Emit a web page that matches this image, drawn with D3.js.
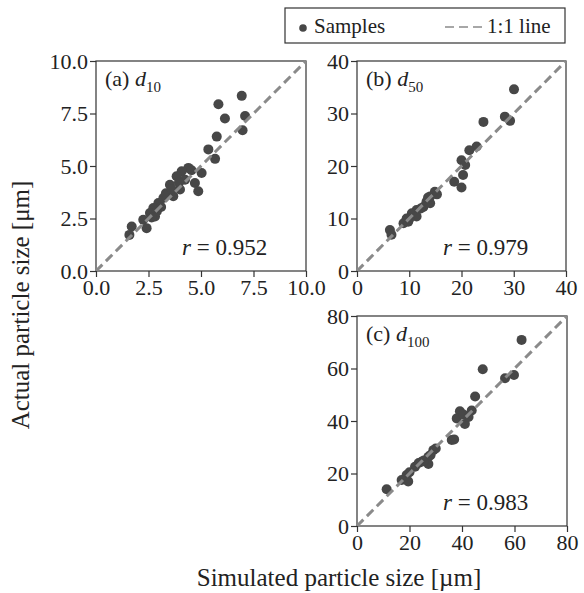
<!DOCTYPE html>
<html>
<head>
<meta charset="utf-8">
<title>Simulated vs actual particle size</title>
<script src="https://d3js.org/d3.v7.min.js"></script>
<style>
  body { margin: 0; background: #fff; }
  svg, text { font-family: 'Liberation Serif', 'Times New Roman', serif; fill: #222; }
</style>
</head>
<body>
<script>
// data
var d10Sim = [6.94, 5.83, 6.14, 7.10, 6.98, 5.75, 5.35, 5.67, 5.03, 4.71, 4.87, 4.40, 4.08, 3.84, 3.52, 4.00, 3.68, 3.21, 2.97, 2.73, 2.57, 2.81, 2.25, 2.41, 1.70, 1.59, 3.33, 4.24, 3.95, 3.10, 2.90, 4.55, 3.60, 2.65];
var d10Act = [8.34, 7.94, 7.26, 7.38, 6.70, 6.40, 5.79, 5.34, 4.67, 4.19, 3.80, 4.91, 4.75, 4.51, 4.11, 3.88, 3.56, 3.48, 3.24, 3.00, 2.76, 2.60, 2.44, 2.04, 2.12, 1.72, 3.70, 4.35, 4.20, 3.05, 2.85, 4.80, 3.90, 2.55];

var d50Sim = [30.05, 24.2, 28.3, 29.3, 22.9, 21.5, 20.0, 20.7, 20.3, 18.6, 20.0, 14.9, 14.0, 13.3, 12.7, 11.4, 10.5, 9.5, 8.9, 9.8, 6.3, 6.6, 14.0, 11.4, 15.3, 12.2, 10.0, 13.6];
var d50Act = [34.6, 28.4, 29.4, 28.6, 23.7, 23.0, 21.1, 20.2, 18.3, 17.0, 15.9, 15.1, 14.2, 13.2, 12.2, 11.6, 11.0, 10.0, 9.1, 9.4, 7.8, 6.9, 12.9, 10.4, 14.6, 11.9, 9.9, 14.0];

var d100Sim = [62.7, 47.9, 56.4, 59.8, 45.0, 43.7, 39.2, 38.0, 41.1, 36.1, 29.1, 27.2, 24.6, 22.1, 27.2, 18.9, 17.0, 11.3, 40.5, 42.5, 30.0, 25.5, 20.0, 19.5, 23.5, 37.0, 28.0];
var d100Act = [70.9, 59.7, 56.3, 57.5, 49.3, 44.0, 43.7, 41.0, 38.9, 32.8, 28.9, 26.4, 24.5, 22.6, 23.6, 19.4, 17.5, 14.0, 42.5, 41.5, 29.5, 25.0, 20.5, 17.0, 24.0, 33.0, 27.0];

var panelNames = ["(a) ", "(b) ", "(c) "];
var panelSubs = ["10", "50", "100"];
var rValues = ["0.952", "0.979", "0.983"];
var axisMax = [10, 40, 80];
var tickVals = [[0, 2.5, 5, 7.5, 10], [0, 10, 20, 30, 40], [0, 20, 40, 60, 80]];
var tickFmt = [d3.format(".1f"), d3.format("d"), d3.format("d")];

var W = 584, H = 593;
var serif = "'Liberation Serif', 'Times New Roman', serif";
var svg = d3.select("body").append("svg").attr("width", W).attr("height", H)
  .attr("font-family", serif);

var boxes = [
  {x0: 96, x1: 306, y0: 61, y1: 271},
  {x0: 357, x1: 566, y0: 61, y1: 271},
  {x0: 357, x1: 567, y0: 316, y1: 526}
];
var sims = [d10Sim, d50Sim, d100Sim];
var acts = [d10Act, d50Act, d100Act];

var dotColor = "#474747";
var lineColor = "#8a8a8a";

boxes.forEach(function(b, i) {
  var x = d3.scaleLinear().domain([0, axisMax[i]]).range([b.x0, b.x1]);
  var y = d3.scaleLinear().domain([0, axisMax[i]]).range([b.y1, b.y0]);
  var g = svg.append("g");

  g.append("rect").attr("x", b.x0).attr("y", b.y0)
    .attr("width", b.x1 - b.x0).attr("height", b.y1 - b.y0)
    .attr("fill", "none").attr("stroke", "#333").attr("stroke-width", 1.2);

  var pts = sims[i].map(function(s, k) { return [s, acts[i][k]]; });
  g.selectAll("circle").data(pts).enter().append("circle")
    .attr("cx", function(d) { return x(d[0]); })
    .attr("cy", function(d) { return y(d[1]); })
    .attr("r", 5)
    .attr("fill", dotColor);

  g.append("line")
    .attr("x1", x(0)).attr("y1", y(0))
    .attr("x2", x(axisMax[i])).attr("y2", y(axisMax[i]))
    .attr("stroke", lineColor).attr("stroke-width", 3)
    .attr("stroke-dasharray", "9,5");

  var xa = g.append("g").attr("transform", "translate(0," + b.y1 + ")")
    .call(d3.axisBottom(x).tickValues(tickVals[i]).tickFormat(tickFmt[i]).tickSize(6).tickSizeOuter(0));
  var ya = g.append("g").attr("transform", "translate(" + b.x0 + ",0)")
    .call(d3.axisLeft(y).tickValues(tickVals[i]).tickFormat(tickFmt[i]).tickSize(6).tickSizeOuter(0));
  [xa, ya].forEach(function(a) {
    a.attr("font-family", serif).attr("font-size", 22);
    a.select(".domain").remove();
    a.selectAll("line").attr("stroke", "#333").attr("stroke-width", 1.2);
    a.selectAll("text").attr("fill", "#222");
  });
  xa.selectAll("text").attr("dy", "0.78em").attr("y", 7);
  ya.selectAll("text").attr("x", -8).attr("dy", "0.34em");

  var lab = g.append("text").attr("x", b.x0 + 9).attr("y", b.y0 + 25).attr("font-size", 22);
  lab.append("tspan").text(panelNames[i]);
  lab.append("tspan").attr("font-style", "italic").text("d");
  lab.append("tspan").attr("dy", 6).attr("font-size", 15).text(panelSubs[i]);

  var rt = g.append("text").attr("x", b.x0 + 86).attr("y", b.y1 - 16).attr("font-size", 23);
  rt.append("tspan").attr("font-style", "italic").text("r");
  rt.append("tspan").text(" = " + rValues[i]);
});

// legend
var lg = svg.append("g");
lg.append("rect").attr("x", 285).attr("y", 8).attr("width", 280).attr("height", 35)
  .attr("fill", "#fff").attr("stroke", "#333").attr("stroke-width", 1.2);
lg.append("circle").attr("cx", 303).attr("cy", 28).attr("r", 3.8).attr("fill", dotColor);
lg.append("text").attr("x", 314).attr("y", 33).attr("font-size", 21).text("Samples");
lg.append("line").attr("x1", 445).attr("x2", 485).attr("y1", 27).attr("y2", 27)
  .attr("stroke", lineColor).attr("stroke-width", 1.5).attr("stroke-dasharray", "9,5");
lg.append("text").attr("x", 487).attr("y", 33).attr("font-size", 21).text("1:1 line");

// axis titles
svg.append("text").attr("transform", "translate(29,305) rotate(-90)")
  .attr("text-anchor", "middle").attr("font-size", 25).text("Actual particle size [μm]");
svg.append("text").attr("x", 339).attr("y", 586)
  .attr("text-anchor", "middle").attr("font-size", 25).text("Simulated particle size [µm]");
</script>
</body>
</html>
